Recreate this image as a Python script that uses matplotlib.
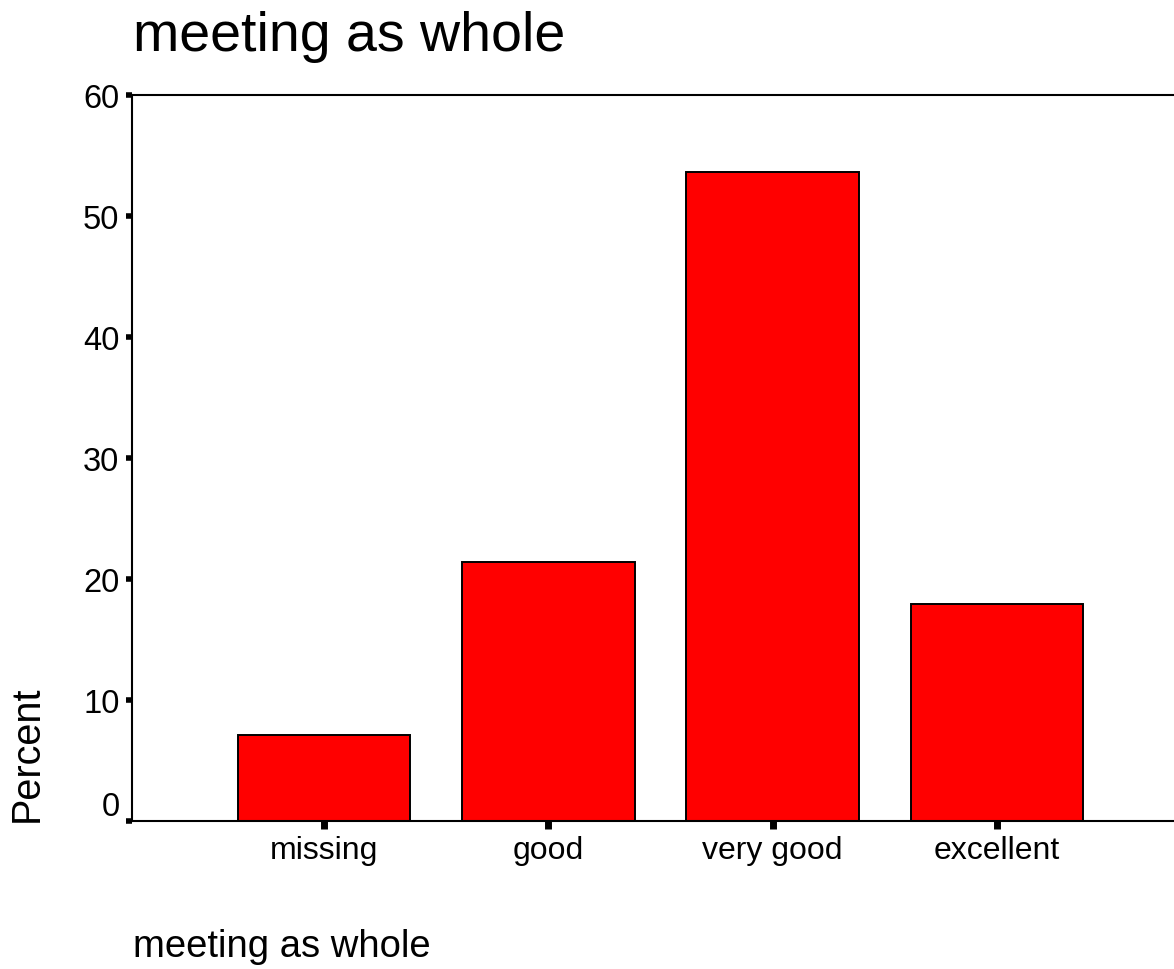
import matplotlib
matplotlib.use("Agg")
import matplotlib.pyplot as plt
import matplotlib.transforms as mtransforms
import numpy as np

categories = ["missing", "good", "very good", "excellent"]
percent = [7.1, 21.4, 53.6, 17.9]
y_ticks = [0, 10, 20, 30, 40, 50, 60]

plt.rcParams['font.family'] = ['Liberation Sans', 'DejaVu Sans']

fig = plt.figure(figsize=(11.74, 9.70), dpi=100)
# axes runs off the right edge, like the original export
ax = fig.add_axes([132 / 1174, 1 - 822 / 970, 1057 / 1174, 726 / 970])

x = np.arange(len(categories))
ax.bar(x, percent, width=0.77, color="#ff0000", edgecolor="black", linewidth=1.4, zorder=2)

ax.set_xlim(-0.857, len(categories) - 1 + 0.857)
ax.set_ylim(0, 60)
ax.set_xticks(x)
ax.set_xticklabels(categories, fontsize=23)
ax.set_yticks(y_ticks)
ax.set_yticklabels([str(t) for t in y_ticks], fontsize=23.5)

ax.spines["right"].set_visible(False)
for s in ["left", "bottom", "top"]:
    ax.spines[s].set_linewidth(1.5)

ax.tick_params(axis="y", direction="out", length=4, width=4, pad=5)
ax.tick_params(axis="x", direction="out", length=6, width=5, pad=4)

# SPSS puts the 0 label a bit above the axis
lbl0 = ax.get_yticklabels()[0]
lbl0.set_transform(lbl0.get_transform() + mtransforms.ScaledTranslation(0, 18 / 100, fig.dpi_scale_trans))

fig.text(133 / 1174, 1 - 51 / 970, "meeting as whole", fontsize=40, ha="left", va="baseline")
fig.text(133 / 1174, 1 - 957 / 970, "meeting as whole", fontsize=27.5, ha="left", va="baseline")
fig.text(46 / 1174, 1 - 822 / 970, "Percent", fontsize=28.5, rotation=90, ha="right", va="bottom")

fig.savefig("out.png", dpi=100)
